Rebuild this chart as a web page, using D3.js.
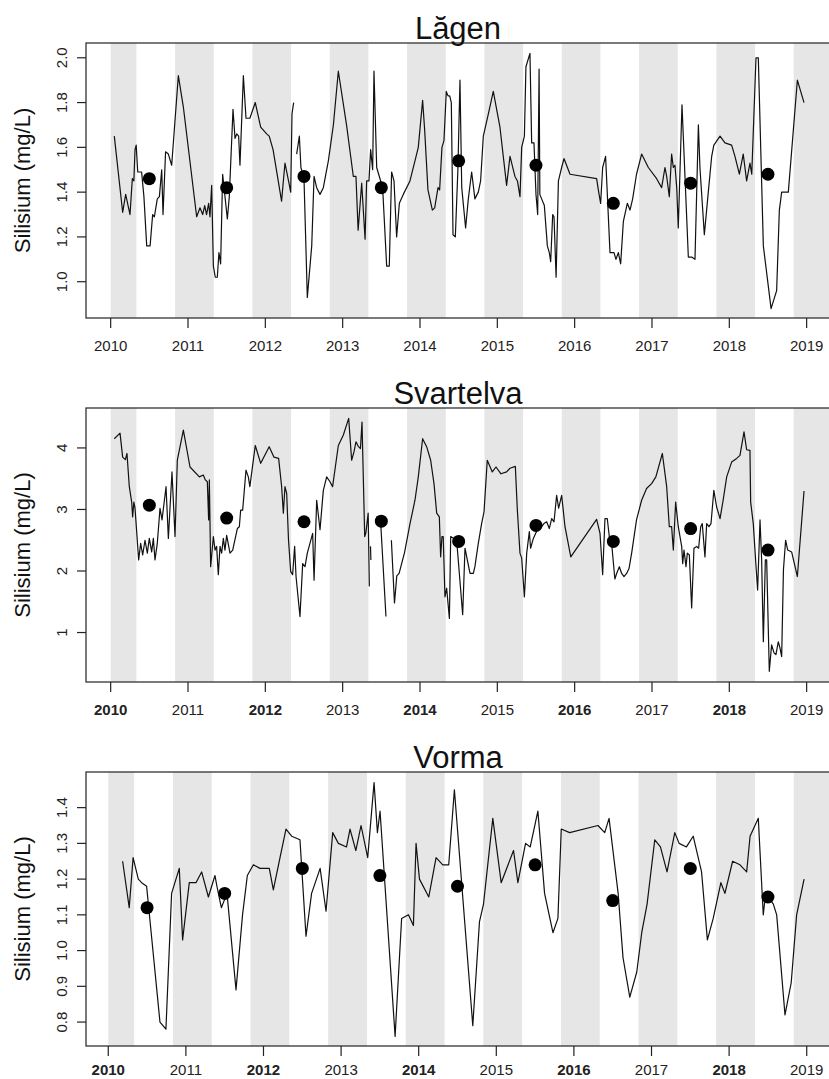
<!DOCTYPE html>
<html><head><meta charset="utf-8">
<script src="https://cdn.jsdelivr.net/npm/d3@7"></script>
<style>body{margin:0;background:#fff}svg{display:block}text{font-family:"Liberation Sans",Arial,sans-serif}</style>
</head><body><svg id="c" width="829" height="1079"></svg>
<script>
// ---------- DATA ----------
const panelTitles = ["Lăgen", "Svartelva", "Vorma"];
const yearTicks = [2010, 2011, 2012, 2013, 2014, 2015, 2016, 2017, 2018, 2019];
const summerYear = [2010.5, 2011.5, 2012.5, 2013.5, 2014.5, 2015.5, 2016.5, 2017.5, 2018.5];

const lagenYear = [2010.047,2010.155,2010.194,2010.25,2010.28,2010.30,2010.315,2010.33,2010.35,2010.40,2010.43,2010.466,2010.51,2010.543,2010.565,2010.603,2010.63,2010.66,2010.677,2010.71,2010.746,2010.789,2010.875,2010.94,2011.112,2011.155,2011.19,2011.216,2011.24,2011.267,2011.284,2011.306,2011.328,2011.353,2011.379,2011.40,2011.422,2011.448,2011.466,2011.509,2011.534,2011.582,2011.608,2011.63,2011.655,2011.672,2011.716,2011.75,2011.80,2011.87,2011.94,2012.017,2012.05,2012.10,2012.21,2012.254,2012.30,2012.328,2012.345,2012.366,2012.38,2012.405,2012.44,2012.46,2012.50,2012.543,2012.60,2012.63,2012.664,2012.707,2012.75,2012.815,2012.88,2012.944,2013.05,2013.138,2013.172,2013.20,2013.246,2013.29,2013.31,2013.34,2013.362,2013.388,2013.405,2013.44,2013.474,2013.517,2013.569,2013.603,2013.633,2013.664,2013.698,2013.733,2013.784,2013.87,2013.935,2013.978,2014.034,2014.06,2014.103,2014.16,2014.19,2014.233,2014.254,2014.284,2014.31,2014.34,2014.362,2014.384,2014.405,2014.427,2014.457,2014.49,2014.517,2014.54,2014.59,2014.625,2014.668,2014.71,2014.754,2014.784,2014.819,2014.884,2014.948,2015.034,2015.12,2015.164,2015.228,2015.26,2015.293,2015.315,2015.35,2015.37,2015.422,2015.444,2015.474,2015.50,2015.522,2015.54,2015.55,2015.573,2015.608,2015.647,2015.672,2015.69,2015.716,2015.733,2015.76,2015.79,2015.832,2015.862,2015.94,2016.284,2016.306,2016.336,2016.362,2016.40,2016.457,2016.509,2016.534,2016.565,2016.595,2016.63,2016.681,2016.716,2016.75,2016.80,2016.866,2016.953,2017.06,2017.125,2017.168,2017.19,2017.224,2017.254,2017.276,2017.297,2017.32,2017.34,2017.388,2017.47,2017.513,2017.556,2017.60,2017.62,2017.677,2017.72,2017.772,2017.80,2017.88,2017.944,2018.03,2018.073,2018.13,2018.18,2018.224,2018.267,2018.29,2018.345,2018.375,2018.44,2018.54,2018.612,2018.647,2018.677,2018.763,2018.88,2018.966];
const lagenSi = [1.65,1.31,1.39,1.30,1.46,1.45,1.59,1.61,1.49,1.49,1.38,1.16,1.16,1.30,1.29,1.37,1.38,1.50,1.30,1.58,1.57,1.52,1.92,1.78,1.29,1.33,1.30,1.34,1.30,1.35,1.29,1.43,1.07,1.02,1.02,1.13,1.08,1.48,1.42,1.28,1.38,1.77,1.64,1.66,1.65,1.52,1.92,1.73,1.73,1.80,1.69,1.66,1.65,1.59,1.36,1.53,1.45,1.40,1.75,1.80,null,1.57,1.65,1.51,1.46,0.93,1.16,1.47,1.42,1.39,1.42,1.54,1.70,1.94,1.70,1.47,1.47,1.23,1.44,1.19,1.45,1.45,1.59,1.50,1.94,1.51,1.47,1.42,1.07,1.07,1.49,1.45,1.20,1.35,1.39,1.45,1.54,1.60,1.81,1.68,1.41,1.32,1.33,1.42,1.41,1.60,1.63,1.85,1.83,1.83,1.80,1.21,1.20,1.50,1.90,1.42,1.24,1.37,1.49,1.37,1.40,1.45,1.65,1.75,1.85,1.69,1.43,1.56,1.47,1.45,1.38,1.60,1.65,1.96,2.02,1.62,1.62,1.39,1.30,1.95,1.39,1.37,1.34,1.16,1.13,1.09,1.30,1.29,1.02,1.45,1.51,1.55,1.48,1.46,1.41,1.35,1.51,1.56,1.13,1.13,1.10,1.13,1.08,1.27,1.35,1.32,1.37,1.48,1.57,1.51,1.46,1.42,1.51,1.47,1.38,1.57,1.51,1.52,1.42,1.24,1.79,1.11,1.11,1.10,1.70,1.51,1.21,1.37,1.56,1.61,1.65,1.62,1.61,1.56,1.48,1.57,1.45,1.53,1.48,2.00,2.00,1.16,0.88,0.96,1.32,1.40,1.40,1.90,1.80];
const lagenSummer = [1.46, 1.42, 1.47, 1.42, 1.54, 1.52, 1.35, 1.44, 1.48];

const svartYear = [2010.047,2010.121,2010.155,2010.19,2010.211,2010.241,2010.272,2010.284,2010.30,2010.315,2010.362,2010.388,2010.414,2010.444,2010.474,2010.50,2010.53,2010.552,2010.573,2010.603,2010.638,2010.664,2010.716,2010.746,2010.793,2010.832,2010.862,2010.94,2011.026,2011.147,2011.198,2011.224,2011.25,2011.267,2011.276,2011.293,2011.328,2011.35,2011.37,2011.392,2011.414,2011.435,2011.457,2011.478,2011.50,2011.543,2011.578,2011.638,2011.664,2011.681,2011.707,2011.75,2011.78,2011.80,2011.87,2011.94,2012.05,2012.112,2012.172,2012.211,2012.233,2012.254,2012.276,2012.30,2012.328,2012.353,2012.379,2012.397,2012.448,2012.483,2012.513,2012.543,2012.612,2012.63,2012.664,2012.707,2012.75,2012.793,2012.836,2012.87,2012.944,2013.009,2013.078,2013.116,2013.147,2013.172,2013.20,2013.23,2013.25,2013.285,2013.30,2013.33,2013.345,2013.35,2013.36,2013.365,2013.40,2013.44,2013.49,2013.56,2013.60,2013.63,2013.67,2013.70,2013.73,2013.80,2013.871,2013.935,2013.978,2014.034,2014.086,2014.138,2014.181,2014.216,2014.25,2014.267,2014.284,2014.30,2014.323,2014.345,2014.38,2014.397,2014.474,2014.552,2014.582,2014.612,2014.647,2014.69,2014.71,2014.754,2014.797,2014.828,2014.87,2014.935,2014.983,2015.047,2015.12,2015.164,2015.233,2015.259,2015.293,2015.315,2015.35,2015.38,2015.414,2015.43,2015.466,2015.517,2015.552,2015.573,2015.603,2015.638,2015.672,2015.703,2015.733,2015.767,2015.793,2015.832,2015.875,2015.95,2016.284,2016.328,2016.362,2016.392,2016.422,2016.448,2016.478,2016.52,2016.543,2016.578,2016.608,2016.638,2016.672,2016.703,2016.737,2016.80,2016.866,2016.93,2016.995,2017.05,2017.134,2017.19,2017.224,2017.254,2017.276,2017.306,2017.34,2017.384,2017.397,2017.414,2017.44,2017.457,2017.483,2017.513,2017.543,2017.578,2017.603,2017.63,2017.65,2017.685,2017.707,2017.737,2017.763,2017.80,2017.836,2017.88,2017.92,2017.966,2018.03,2018.095,2018.138,2018.19,2018.224,2018.267,2018.276,2018.31,2018.34,2018.366,2018.397,2018.418,2018.44,2018.466,2018.483,2018.517,2018.547,2018.578,2018.603,2018.633,2018.655,2018.677,2018.70,2018.728,2018.755,2018.806,2018.88,2018.966];
const svartSi = [4.15,4.24,3.85,3.81,3.91,3.37,3.12,2.88,3.12,3.02,2.18,2.45,2.26,2.50,2.29,2.53,2.31,2.53,2.18,2.45,3.02,2.83,3.37,2.53,3.61,2.56,3.80,4.29,3.69,3.53,3.56,3.48,3.45,2.83,3.48,2.07,2.56,2.34,2.40,1.94,2.40,2.29,2.53,2.34,2.58,2.29,2.34,2.69,2.72,2.99,2.99,3.64,3.53,3.37,4.04,3.75,4.02,3.85,3.83,3.37,2.94,3.37,3.26,2.50,1.99,1.94,2.40,1.91,1.26,2.12,2.07,2.29,2.61,1.85,3.15,2.67,3.31,3.53,3.45,3.37,4.04,4.21,4.48,3.80,3.94,4.10,4.03,3.99,4.42,2.56,2.62,2.94,1.75,null,2.40,2.18,null,2.89,2.82,1.26,null,2.50,1.48,1.92,1.96,2.30,2.77,3.15,3.53,4.15,4.02,3.80,3.42,2.94,2.88,2.23,2.56,2.56,1.58,1.72,1.23,2.56,2.50,1.29,2.37,2.18,1.96,1.96,2.07,2.45,2.77,2.96,3.80,3.61,3.69,3.58,3.61,3.67,3.70,2.99,2.29,2.21,1.58,2.29,2.64,2.37,2.53,2.67,2.75,2.72,2.77,2.80,2.69,2.85,2.80,3.23,3.02,3.23,2.72,2.23,2.84,2.61,1.94,2.85,2.85,2.56,2.45,1.87,1.96,2.07,1.96,1.91,1.96,2.04,2.29,2.83,3.15,3.34,3.42,3.53,3.91,3.37,2.72,2.72,2.34,3.12,2.72,2.40,2.12,2.34,2.07,2.29,2.26,1.40,2.37,2.40,2.37,2.72,2.77,2.23,2.77,2.72,2.77,3.31,3.04,2.85,3.15,3.53,3.77,3.83,3.88,4.26,3.97,3.96,3.12,2.77,2.18,1.69,2.83,2.18,0.85,2.18,2.18,0.37,0.80,0.67,0.64,0.85,0.75,0.61,2.02,2.50,2.34,2.31,1.91,3.30];
const svartSummer = [3.07, 2.86, 2.80, 2.81, 2.48, 2.74, 2.48, 2.69, 2.34];

const vormaYear = [2010.185,2010.27,2010.32,2010.387,2010.43,2010.494,2010.666,2010.743,2010.816,2010.915,2010.958,2011.044,2011.13,2011.203,2011.29,2011.375,2011.40,2011.457,2011.53,2011.646,2011.73,2011.792,2011.87,2011.955,2012.075,2012.127,2012.213,2012.29,2012.363,2012.47,2012.548,2012.62,2012.73,2012.806,2012.892,2012.965,2013.07,2013.115,2013.19,2013.257,2013.343,2013.425,2013.468,2013.502,2013.696,2013.78,2013.868,2013.932,2013.966,2014.01,2014.13,2014.224,2014.31,2014.387,2014.46,2014.697,2014.783,2014.835,2014.955,2015.063,2015.222,2015.278,2015.377,2015.437,2015.536,2015.622,2015.73,2015.794,2015.837,2015.945,2016.31,2016.397,2016.453,2016.57,2016.633,2016.72,2016.81,2016.874,2016.943,2017.042,2017.115,2017.20,2017.30,2017.356,2017.45,2017.537,2017.645,2017.72,2017.795,2017.894,2017.946,2018.045,2018.14,2018.226,2018.27,2018.376,2018.44,2018.47,2018.57,2018.613,2018.72,2018.80,2018.87,2018.966];
const vormaSi = [1.25,1.12,1.26,1.20,1.19,1.18,0.80,0.78,1.16,1.23,1.03,1.19,1.19,1.22,1.15,1.21,1.18,1.12,1.16,0.89,1.10,1.21,1.24,1.23,1.23,1.17,1.26,1.34,1.32,1.31,1.04,1.16,1.23,1.11,1.33,1.30,1.29,1.34,1.28,1.35,1.26,1.47,1.33,1.39,0.76,1.09,1.10,1.07,1.30,1.20,1.15,1.26,1.24,1.24,1.45,0.79,1.08,1.13,1.37,1.19,1.28,1.19,1.30,1.29,1.39,1.16,1.05,1.09,1.34,1.33,1.35,1.33,1.37,1.16,0.98,0.87,0.94,1.05,1.13,1.31,1.29,1.22,1.33,1.30,1.29,1.32,1.22,1.03,1.09,1.19,1.16,1.25,1.24,1.22,1.32,1.37,1.10,1.16,1.13,1.10,0.82,0.91,1.10,1.20];
const vormaSummer = [1.12, 1.16, 1.23, 1.21, 1.18, 1.24, 1.14, 1.23, 1.15];

const lagenTicks = [1.0, 1.2, 1.4, 1.6, 1.8, 2.0];
const svartTicks = [1, 2, 3, 4];
const vormaTicks = [0.8, 0.9, 1.0, 1.1, 1.2, 1.3, 1.4];
const winterStart = [2010.0, 2010.833, 2011.833, 2012.833, 2013.833, 2014.833, 2015.833, 2016.833, 2017.833, 2018.833];
const winterEnd   = [2010.333, 2011.333, 2012.333, 2013.333, 2014.333, 2015.333, 2016.333, 2017.333, 2018.333, 2019.333];

// ---------- DRAW ----------
const svg = d3.select("#c");
const panels = [
  {title: panelTitles[0], yrs: lagenYear, vals: lagenSi, sum: lagenSummer, ticks: lagenTicks, fmt: d3.format(".1f"),
   top: 43, bottom: 318, xdom: [2009.681, 2019.302], ydom: [0.838, 2.066], boldAlt: false, lab: 33},
  {title: panelTitles[1], yrs: svartYear, vals: svartSi, sum: svartSummer, ticks: svartTicks, fmt: d3.format("d"),
   top: 408, bottom: 682, xdom: [2009.681, 2019.302], ydom: [0.196, 4.649], boldAlt: true, lab: 33},
  {title: panelTitles[2], yrs: vormaYear, vals: vormaSi, sum: vormaSummer, ticks: vormaTicks, fmt: d3.format(".1f"),
   top: 772, bottom: 1046, xdom: [2009.713, 2019.30], ydom: [0.733, 1.4997], boldAlt: true, lab: 29}
];
const left = 86, right = 830;

panels.forEach((p, pi) => {
  const x = d3.scaleLinear().domain(p.xdom).range([left, right]);
  const y = d3.scaleLinear().domain(p.ydom).range([p.bottom, p.top]);
  const g = svg.append("g");
  const clipId = "clip" + pi;
  g.append("clipPath").attr("id", clipId).append("rect")
    .attr("x", left).attr("y", p.top).attr("width", right - left).attr("height", p.bottom - p.top);
  const inner = g.append("g").attr("clip-path", `url(#${clipId})`);

  // winter bands
  inner.selectAll("rect.band").data(winterStart.map((s, i) => [s, winterEnd[i]])).join("rect")
    .attr("class", "band")
    .attr("x", d => x(d[0])).attr("width", d => x(d[1]) - x(d[0]))
    .attr("y", p.top).attr("height", p.bottom - p.top)
    .attr("fill", "#e6e6e6");

  // line
  const data = p.yrs.map((t, i) => ({t, v: p.vals[i]}));
  const line = d3.line().defined(d => d.v != null).x(d => x(d.t)).y(d => y(d.v));
  inner.append("path").datum(data).attr("d", line)
    .attr("fill", "none").attr("stroke", "#111").attr("stroke-width", 1.2).attr("stroke-linejoin", "round");

  // summer means
  inner.selectAll("circle").data(summerYear.map((t, i) => ({t, v: p.sum[i]}))).join("circle")
    .attr("cx", d => x(d.t)).attr("cy", d => y(d.v)).attr("r", 6.5).attr("fill", "#000");

  // box
  g.append("rect").attr("x", left).attr("y", p.top).attr("width", right - left).attr("height", p.bottom - p.top)
    .attr("fill", "none").attr("stroke", "#222").attr("stroke-width", 1.2);

  // x axis
  const xa = g.append("g");
  yearTicks.forEach((t, i) => {
    xa.append("line").attr("x1", x(t)).attr("x2", x(t)).attr("y1", p.bottom).attr("y2", p.bottom + 10)
      .attr("stroke", "#222").attr("stroke-width", 1.2);
    xa.append("text").attr("x", x(t)).attr("y", p.bottom + p.lab).attr("text-anchor", "middle")
      .attr("font-size", 15).attr("fill", "#222")
      .attr("font-weight", p.boldAlt && i % 2 === 0 ? "bold" : "normal")
      .text(t);
  });

  // y axis
  const ya = g.append("g");
  p.ticks.forEach(t => {
    ya.append("line").attr("x1", left - 9).attr("x2", left).attr("y1", y(t)).attr("y2", y(t))
      .attr("stroke", "#222").attr("stroke-width", 1.2);
    ya.append("text").attr("transform", `translate(67,${y(t)}) rotate(-90)`).attr("text-anchor", "middle")
      .attr("font-size", 15).attr("fill", "#222").text(p.fmt(t));
  });

  // y label
  g.append("text").attr("transform", `translate(30,${(p.top + p.bottom) / 2}) rotate(-90)`)
    .attr("text-anchor", "middle").attr("font-size", 22).attr("fill", "#111").text("Silisium (mg/L)");

  // title
  g.append("text").attr("x", (left + right) / 2).attr("y", p.top - 4).attr("text-anchor", "middle")
    .attr("font-size", 31).attr("fill", "#111").text(p.title);
});
</script></body></html>
